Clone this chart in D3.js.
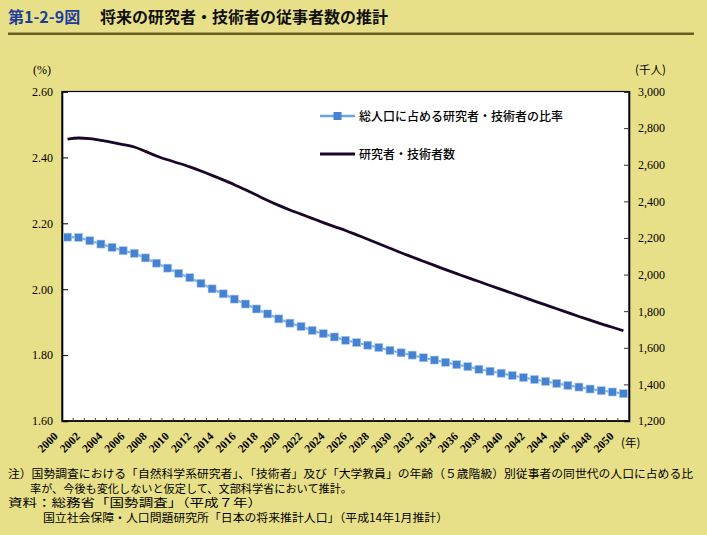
<!DOCTYPE html>
<html><head><meta charset="utf-8">
<script src="https://cdn.jsdelivr.net/npm/d3@7/dist/d3.min.js"></script>
<style>
html,body{margin:0;padding:0;background:#e8e088;}
svg{display:block;}
</style></head>
<body>
<svg id="c" width="707" height="535"></svg>
<script>
const years = [2000,2001,2002,2003,2004,2005,2006,2007,2008,2009,2010,2011,2012,2013,2014,2015,2016,2017,2018,2019,2020,2021,2022,2023,2024,2025,2026,2027,2028,2029,2030,2031,2032,2033,2034,2035,2036,2037,2038,2039,2040,2041,2042,2043,2044,2045,2046,2047,2048,2049,2050];
const ratio = [2.158,2.157,2.147,2.137,2.127,2.117,2.109,2.095,2.079,2.064,2.048,2.035,2.018,2.001,1.986,1.970,1.955,1.940,1.925,1.910,1.897,1.887,1.875,1.865,1.855,1.845,1.838,1.830,1.823,1.814,1.807,1.800,1.792,1.785,1.778,1.771,1.765,1.757,1.751,1.745,1.738,1.732,1.726,1.720,1.714,1.708,1.703,1.697,1.692,1.688,1.683];
const researchers = [2740,2746,2742,2733,2722,2710,2697,2673,2648,2627,2608,2588,2566,2542,2517,2491,2463,2434,2405,2378,2353,2330,2307,2284,2262,2241,2217,2193,2168,2144,2119,2096,2073,2050,2027,2005,1983,1962,1940,1919,1898,1877,1855,1834,1813,1792,1771,1751,1731,1712,1693];
const leftTicks = [1.6,1.8,2.0,2.2,2.4,2.6];
const rightTicks = [1200,1400,1600,1800,2000,2200,2400,2600,2800,3000];
const labelYears = [2000,2002,2004,2006,2008,2010,2012,2014,2016,2018,2020,2022,2024,2026,2028,2030,2032,2034,2036,2038,2040,2042,2044,2046,2048,2050];
const seriesNames = ["総人口に占める研究者・技術者の比率","研究者・技術者数"];
const titleNum = "第1-2-9図";
const titleText = "将来の研究者・技術者の従事者数の推計";
const notes = [
 "注）国勢調査における「自然科学系研究者」、「技術者」及び「大学教員」の年齢（５歳階級）別従事者の同世代の人口に占める比",
 "率が、今後も変化しないと仮定して、文部科学省において推計。",
 "資料：総務省「国勢調査」（平成７年）",
 "国立社会保障・人口問題研究所「日本の将来推計人口」（平成14年1月推計）"
];

const svg = d3.select("#c");
const JP = "'Noto Sans CJK JP','Noto Sans',sans-serif";
const SERIF = "'Liberation Serif','DejaVu Serif',serif";
const L = 62, R = 629, T = 91.5, B = 421;

// Title
svg.append("text").attr("x",8).attr("y",23).attr("font-family",JP).attr("font-weight","bold")
  .attr("font-size",16).attr("fill","#1e3c9c").text(titleNum);
svg.append("text").attr("x",100).attr("y",23).attr("font-family",JP).attr("font-weight","bold")
  .attr("font-size",16).attr("fill","#111").text(titleText);
svg.append("rect").attr("x",8).attr("y",32.5).attr("width",686).attr("height",2.5).attr("fill","#6b5a22");

// Plot area
svg.append("rect").attr("x",L).attr("y",T).attr("width",R-L).attr("height",B-T)
  .attr("fill","#fff").attr("stroke","#000").attr("stroke-width",1.2);

const x = d3.scaleBand().domain(years).range([L,R]).padding(0);
const cx = d => x(d) + x.bandwidth()/2;
const yL = d3.scaleLinear().domain([1.6,2.6]).range([B,T]);
const yR = d3.scaleLinear().domain([1200,3000]).range([B,T]);

// Left axis
const gL = svg.append("g").attr("transform",`translate(${L},0)`)
  .call(d3.axisLeft(yL).tickValues(leftTicks).tickFormat(d3.format(".2f")).tickSize(-6).tickPadding(9));
gL.select(".domain").attr("stroke","#000").attr("stroke-width",1.6);
gL.selectAll(".tick line").attr("stroke","#000");
gL.selectAll(".tick text").attr("font-family",SERIF).attr("font-size",12).attr("fill","#000");

// Right axis
const gR = svg.append("g").attr("transform",`translate(${R},0)`)
  .call(d3.axisRight(yR).tickValues(rightTicks).tickFormat(d3.format(",")).tickSize(-5).tickPadding(9));
gR.select(".domain").attr("stroke","#000").attr("stroke-width",1.6);
gR.selectAll(".tick line").attr("stroke","#333");
gR.selectAll(".tick text").attr("font-family",SERIF).attr("font-size",12).attr("fill","#000");

// Bottom axis
svg.append("line").attr("x1",L).attr("x2",R).attr("y1",B).attr("y2",B).attr("stroke","#000").attr("stroke-width",1.4);
svg.append("g").selectAll("line").data(years.slice(1)).join("line")
  .attr("x1",d=>x(d)).attr("x2",d=>x(d)).attr("y1",B).attr("y2",B-3)
  .attr("stroke","#444").attr("stroke-width",1);
svg.append("g").selectAll("text").data(labelYears).join("text")
  .attr("transform",d=>`translate(${cx(d)-9},437) rotate(-45)`)
  .attr("text-anchor","end").attr("font-family",SERIF).attr("font-size",11.5).attr("font-weight","bold")
  .attr("fill","#000").text(d=>d);

// Unit labels
svg.append("text").attr("x",33).attr("y",74).attr("font-family",SERIF).attr("font-size",12).text("(%)");
svg.append("text").attr("x",635).attr("y",74).attr("font-family",JP).attr("font-size",11.5).text("(千人)");
svg.append("text").attr("x",621).attr("y",447).attr("font-family",JP).attr("font-size",11.5).text("(年)");

// Black line
const lineR = d3.line().x((d,i)=>cx(years[i])).y(d=>yR(d)).curve(d3.curveMonotoneX);
svg.append("path").datum(researchers).attr("d",lineR).attr("fill","none")
  .attr("stroke","#1a0628").attr("stroke-width",2.8);

// Blue line with square markers
const lineL = d3.line().x((d,i)=>cx(years[i])).y(d=>yL(d));
svg.append("path").datum(ratio).attr("d",lineL).attr("fill","none")
  .attr("stroke","#7fb0e4").attr("stroke-width",2.2);
const ms = 8;
svg.append("g").selectAll("rect").data(ratio).join("rect")
  .attr("x",(d,i)=>cx(years[i])-ms/2).attr("y",d=>yL(d)-ms/2)
  .attr("width",ms).attr("height",ms).attr("fill","#4583d2").attr("stroke","#a9c9ee").attr("stroke-width",0.6);

// Legend
svg.append("line").attr("x1",320).attr("x2",355).attr("y1",116).attr("y2",116).attr("stroke","#6aa5e0").attr("stroke-width",2.4);
svg.append("rect").attr("x",337.5-ms/2).attr("y",116-ms/2).attr("width",ms).attr("height",ms).attr("fill","#4583d2");
svg.append("text").attr("x",359).attr("y",120.5).attr("font-family",JP).attr("font-size",12).attr("font-weight","500").text(seriesNames[0]);
svg.append("line").attr("x1",320).attr("x2",355).attr("y1",154).attr("y2",154).attr("stroke","#1a0628").attr("stroke-width",2.8);
svg.append("text").attr("x",359).attr("y",158.5).attr("font-family",JP).attr("font-size",12).attr("font-weight","500").text(seriesNames[1]);

// Notes
const nx = [8,30,8,43], ny = [478,492.5,507,521.5], nlen = [685,322,254,405];
notes.forEach((t,i)=>{
  svg.append("text").attr("x",nx[i]).attr("y",ny[i]).attr("font-family",JP).attr("font-size",11.6).attr("fill","#000")
    .attr("textLength",nlen[i]).attr("lengthAdjust","spacingAndGlyphs").text(t);
});
</script>
</body></html>
